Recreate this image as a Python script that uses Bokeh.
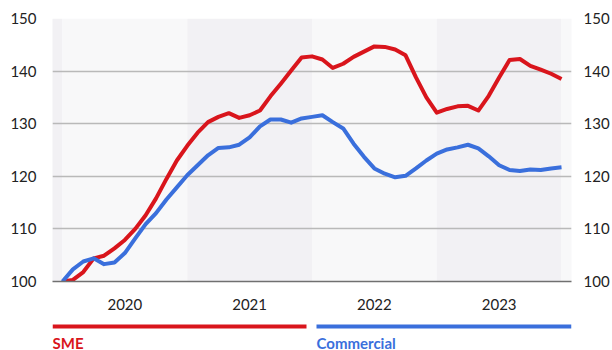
from bokeh.plotting import figure
from bokeh.layouts import column
from bokeh.models import Range1d, LinearAxis, FixedTicker
from bokeh.core.properties import value
from bokeh.embed import file_html
from bokeh.resources import INLINE

# Monthly index values (start = 100)
years = ["2020", "2021", "2022", "2023"]
sme = [100.0, 100.3, 101.8, 104.4, 104.9, 106.3, 107.9, 110.0, 112.6, 115.8,
       119.5, 123.0, 125.8, 128.3, 130.3, 131.3, 132.0, 131.1, 131.6, 132.5,
       135.2, 137.6, 140.1, 142.6, 142.8, 142.2, 140.6, 141.4, 142.7, 143.7,
       144.7, 144.6, 144.1, 143.0, 138.8, 135.0, 132.1, 132.8, 133.3, 133.4,
       132.5, 135.3, 138.8, 142.1, 142.3, 141.0, 140.3, 139.5, 138.5]
commercial = [100.0, 102.3, 103.8, 104.4, 103.3, 103.6, 105.4, 108.2, 110.9, 113.0,
              115.6, 117.9, 120.2, 122.1, 124.0, 125.4, 125.5, 126.0, 127.4, 129.5,
              130.8, 130.8, 130.2, 131.0, 131.3, 131.6, 130.3, 129.1, 126.2, 123.7,
              121.5, 120.5, 119.8, 120.1, 121.5, 123.0, 124.3, 125.1, 125.5, 126.0,
              125.3, 123.8, 122.1, 121.2, 121.0, 121.3, 121.2, 121.5, 121.7]
series_names = ["SME", "Commercial"]
series_colors = ["#d9151c", "#3a6fdc"]
y_ticks = [100, 110, 120, 130, 140, 150]

FONT = "Lato"
TEXT = "#222222"

months = list(range(len(sme)))
n = len(sme) - 1
per_year = 12

p = figure(frame_width=519, frame_height=263,
           x_range=Range1d(-0.96, n + 0.96), y_range=Range1d(100, 150),
           output_backend="svg", toolbar_location=None,
           min_border_left=52, min_border_right=41,
           min_border_top=18, min_border_bottom=36,
           outline_line_color=None,
           background_fill_color="white", border_fill_color="white")

# alternating year bands behind the grid
light, dark = "#f8f8f9", "#f2f1f4"
edges = [-2] + [per_year * i for i in range(len(years) + 1)] + [n + 2]
lefts = edges[:-1]
rights = edges[1:]
colors = [dark if i % 2 == 0 else light for i in range(len(lefts))]
p.quad(left=lefts, right=rights, bottom=100, top=150, color=colors,
       line_color=None, level="image")

p.xgrid.visible = False
p.ygrid.ticker = FixedTicker(ticks=y_ticks)
p.ygrid.grid_line_color = "#b9b9b9"
p.ygrid.grid_line_width = 1.3

axis_style = dict(axis_line_color=None,
                  major_tick_line_color=None, minor_tick_line_color=None,
                  major_tick_out=0, major_tick_in=0,
                  minor_tick_out=0, minor_tick_in=0,
                  major_label_text_font=FONT,
                  major_label_text_font_size="15px",
                  major_label_text_color=TEXT)

# left value axis
p.yaxis.ticker = FixedTicker(ticks=y_ticks)
p.yaxis.update(major_label_standoff=16, **axis_style)

# right value axis
right_axis = LinearAxis(ticker=FixedTicker(ticks=y_ticks),
                        major_label_standoff=12, **axis_style)
p.add_layout(right_axis, "right")

# year labels centred in each band
year_mid = [per_year * i + per_year / 2 for i in range(len(years))]
p.xaxis.ticker = FixedTicker(ticks=year_mid)
p.xaxis.update(major_label_standoff=17, **axis_style)
p.xaxis.major_label_overrides = {m: y for m, y in zip(year_mid, years)}
p.xaxis.axis_line_color = "#707070"
p.xaxis.axis_line_width = 1.3

for vals, col in zip([sme, commercial], series_colors):
    p.line(months, vals, line_width=4, color=col, line_join="round")

# legend strip below the chart; its frame lines up with the chart frame,
# so x is in page pixels and y runs downward
lg = figure(frame_width=519, height=33,
            x_range=Range1d(52, 571), y_range=Range1d(33, 0),
            output_backend="svg", toolbar_location=None,
            x_axis_location=None, y_axis_location=None,
            min_border_left=52, min_border_right=41,
            min_border_top=0, min_border_bottom=0,
            outline_line_color=None,
            background_fill_color="white", border_fill_color="white")
lg.grid.visible = False
lg.segment(x0=[52, 316], y0=[9, 9], x1=[306, 571], y1=[9, 9],
           color=series_colors, line_width=4)
lg.text(x=[52, 316], y=[25, 25], text=series_names, text_color=series_colors,
        text_font=value(FONT), text_font_style="bold", text_font_size="15px",
        text_baseline="middle")

layout = column(p, lg, spacing=0)
open("out.html", "w").write(file_html(layout, INLINE))
